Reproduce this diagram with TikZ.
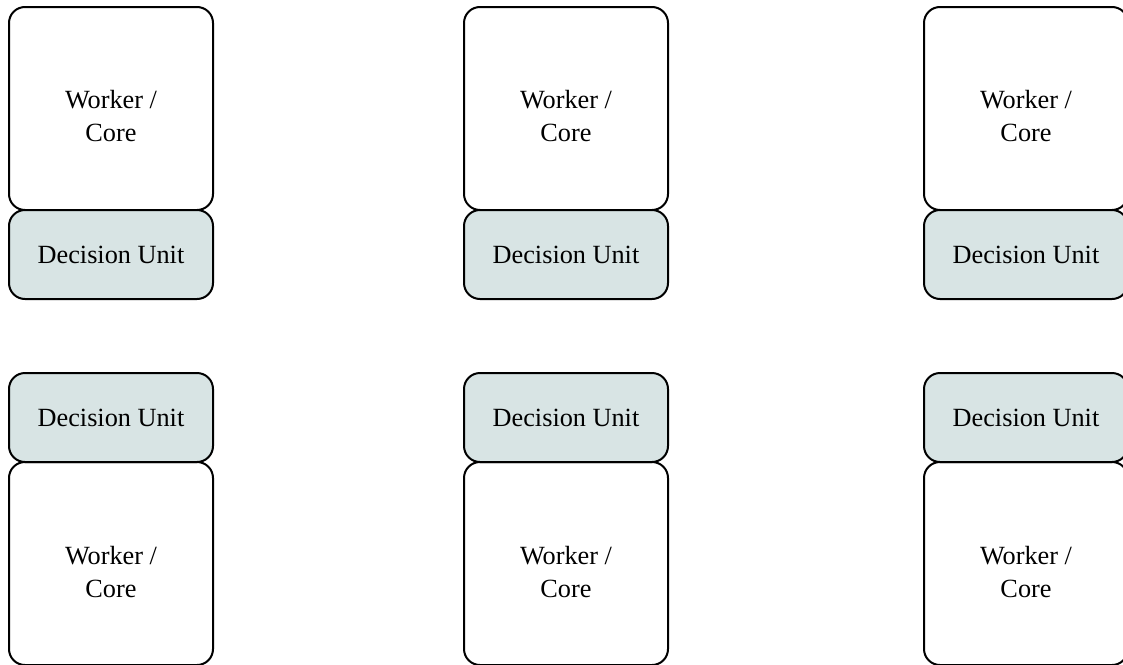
\documentclass[tikz,border=0pt]{standalone}
\usepackage{fontspec}
\setmainfont{Liberation Serif}
\definecolor{unitfill}{RGB}{216,228,228}
\tikzset{every picture/.style={line width=1.5pt}}
\tikzset{
  corebox/.style={draw, rounded corners=12pt, minimum width=153pt, minimum height=152.25pt, inner sep=0pt},
  unitbox/.style={draw, fill=unitfill, rounded corners=12pt, minimum width=153pt, minimum height=66.75pt, inner sep=0pt, font=\fontsize{19.7}{24.75}\selectfont},
  corelabel/.style={inner sep=0pt, align=center, font=\fontsize{19.7}{24.75}\selectfont}
}
\begin{document}
\begin{tikzpicture}[x=0.75pt,y=0.75pt,yscale=-1,xscale=1]
\useasboundingbox (0,0) rectangle (1123,664);

%Top row: worker above its decision unit
\foreach \cx/\n in {111/a, 566/b, 1026/c} {
  \node [corebox] (core\n) at (\cx,108.5) {};
  \node [corelabel] (core\n text) at (\cx,116) {Worker /\\Core};
  \node [unitbox] (unit\n) at (\cx,254.5) {Decision Unit};
}

%Bottom row: decision unit above its worker
\foreach \cx/\n in {111/d, 566/e, 1026/f} {
  \node [corebox] (core\n) at (\cx,563.5) {};
  \node [corelabel] (core\n text) at (\cx,572) {Worker /\\Core};
  \node [unitbox] (unit\n) at (\cx,417.5) {Decision Unit};
}

\end{tikzpicture}
\end{document}
